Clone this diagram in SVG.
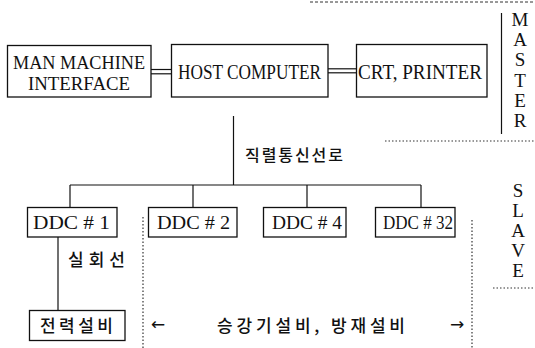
<svg xmlns="http://www.w3.org/2000/svg" width="535" height="348" viewBox="0 0 535 348">
<style>
.box{fill:#fff;stroke:#111;stroke-width:1.3}
.ln{stroke:#111;stroke-width:1.2;fill:none}
.dl{stroke:#333;stroke-width:1;stroke-dasharray:3 2;fill:none}
.dt{stroke:#333;stroke-width:1.2;stroke-dasharray:1.5 2;fill:none}
.t{font-family:"Liberation Serif","DejaVu Serif",serif;fill:#111}
.k{font-family:"Noto Sans CJK KR",sans-serif;fill:#111}
.a{font-family:"DejaVu Sans",sans-serif;fill:#111}
</style>
<rect width="535" height="348" fill="#fff"/>
<g id="connectors">
<line class="ln" x1="151" y1="69.5" x2="171" y2="69.5" stroke-width="2.2"/>
<line class="ln" x1="151" y1="73.8" x2="171" y2="73.8" stroke-width="2.8"/>
<line class="ln" x1="328" y1="68.8" x2="356" y2="68.8" stroke-width="2.2"/>
<line class="ln" x1="328" y1="72.8" x2="356" y2="72.8" stroke-width="2.6"/>
<line class="ln" x1="233.5" y1="116" x2="233.5" y2="185"/>
<line class="ln" x1="70" y1="185" x2="421" y2="185"/>
<line class="ln" x1="70" y1="185" x2="70" y2="207"/>
<line class="ln" x1="193" y1="185" x2="193" y2="207"/>
<line class="ln" x1="307" y1="185" x2="307" y2="207"/>
<line class="ln" x1="421" y1="185" x2="421" y2="207"/>
<line class="ln" x1="58" y1="237" x2="58" y2="310"/>
</g>
<g id="boundaries">
<line class="dl" x1="310" y1="2" x2="535" y2="2"/>
<line class="ln" x1="501.5" y1="13" x2="501.5" y2="134" stroke-width="1.6"/>
<line class="dt" x1="385" y1="141" x2="535" y2="141"/>
<line class="dt" x1="143" y1="217" x2="143" y2="348"/>
<line class="dt" x1="472" y1="220" x2="472" y2="348"/>
<line class="dt" x1="493" y1="288" x2="535" y2="288"/>
</g>
<g id="mmi">
<rect class="box" x="7.5" y="45.5" width="143.5" height="51.5"/>
<text class="t" x="13" y="69" font-size="18" textLength="132" lengthAdjust="spacingAndGlyphs">MAN MACHINE</text>
<text class="t" x="28" y="90" font-size="18" textLength="102" lengthAdjust="spacingAndGlyphs">INTERFACE</text>
</g>
<g id="host">
<rect class="box" x="171.5" y="44.5" width="156.5" height="52.5"/>
<text class="t" x="178" y="79" font-size="20" textLength="143" lengthAdjust="spacingAndGlyphs">HOST COMPUTER</text>
</g>
<g id="crt">
<rect class="box" x="356.5" y="44.5" width="130.5" height="52.5"/>
<text class="t" x="358" y="79" font-size="20" textLength="124" lengthAdjust="spacingAndGlyphs">CRT, PRINTER</text>
</g>
<g id="master" class="t" font-size="19" text-anchor="middle">
<text x="520" y="26">M</text>
<text x="520" y="46">A</text>
<text x="520" y="66">S</text>
<text x="520" y="87">T</text>
<text x="520" y="107">E</text>
<text x="520" y="127">R</text>
</g>
<g id="slave" class="t" font-size="19" text-anchor="middle">
<text x="518" y="197">S</text>
<text x="518" y="217">L</text>
<text x="518" y="237">A</text>
<text x="518" y="257">V</text>
<text x="518" y="277">E</text>
</g>
<text class="k" x="245" y="161" font-size="16" textLength="98" font-weight="500">직렬통신선로</text>
<g id="ddc1">
<rect class="box" x="27.5" y="207.5" width="89.5" height="29.5"/>
<text class="t" x="33" y="229" font-size="18" textLength="77" lengthAdjust="spacingAndGlyphs">DDC # 1</text>
</g>
<g id="ddc2">
<rect class="box" x="148.5" y="207.5" width="88.5" height="29.5"/>
<text class="t" x="157" y="229" font-size="18" textLength="73" lengthAdjust="spacingAndGlyphs">DDC # 2</text>
</g>
<g id="ddc4">
<rect class="box" x="263.5" y="207.5" width="82.5" height="29.5"/>
<text class="t" x="272" y="229" font-size="18" textLength="70" lengthAdjust="spacingAndGlyphs">DDC # 4</text>
</g>
<g id="ddc32">
<rect class="box" x="375.5" y="207.5" width="79.5" height="29.5"/>
<text class="t" x="383" y="229" font-size="18" textLength="70" lengthAdjust="spacingAndGlyphs">DDC # 32</text>
</g>
<text class="k" x="68" y="266" font-size="17" textLength="57" font-weight="500">실회선</text>
<g id="power">
<rect class="box" x="29.5" y="310.5" width="95.5" height="30"/>
<text class="k" x="40" y="332" font-size="17" textLength="73" font-weight="500">전력설비</text>
</g>
<g id="elevator">
<text class="a" x="151" y="330" font-size="17">←</text>
<text class="k" x="217" y="332" font-size="17" textLength="188" font-weight="500">승강기설비, 방재설비</text>
<text class="a" x="450" y="330" font-size="17">→</text>
</g>
</svg>
